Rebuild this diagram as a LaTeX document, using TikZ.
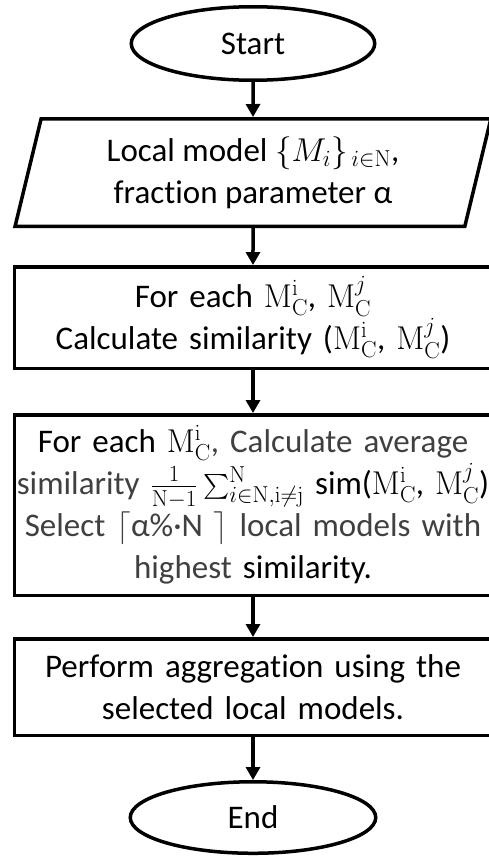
\RequirePackage{fix-cm}
\documentclass[tikz,border=0pt]{standalone}
\usepackage{amsmath}
\usepackage[no-math]{fontspec}
\setmainfont{Carlito}[Ligatures=NoCommon]
\usetikzlibrary{shapes.geometric, arrows.meta, positioning}
\definecolor{txtgray}{RGB}{64,64,64}
\newcommand{\Mci}{\mathrm{M}_{\mathrm{C}}^{\mathrm{i}}}
\newcommand{\Mcj}{\mathrm{M}_{\mathrm{C}}^{j}}
\tikzset{
  terminal/.style={ellipse, draw=black, line width=3.5pt,
    minimum width=243.5pt, minimum height=73.5pt, inner sep=0pt},
  io/.style={trapezium, trapezium left angle=76, trapezium right angle=104,
    trapezium stretches=true, draw=black, line width=3.5pt,
    minimum width=477pt, minimum height=107.5pt, align=center, inner sep=0pt},
  process/.style={rectangle, draw=black, line width=3.5pt,
    minimum width=477pt, text width=474pt, align=center, inner sep=0pt},
  arrow/.style={-{Triangle[length=13pt,width=14pt]}, line width=3.5pt}
}
\begin{document}
\begin{tikzpicture}[x=1pt, y=1pt, font=\fontsize{33}{42}\selectfont]
  \useasboundingbox (0,0) rectangle (489,-859);
  \clip (0,0) rectangle (489,-859);

  % Terminals and steps
  \node[terminal] (start) at (253,-43.5) {Start};
  \node[io, below=35pt of start] (input)
    {Local model $\{M_i\}_{\,i\in\mathrm{N}}$,\\ fraction parameter α};
  \node[process, minimum height=101.5pt, below=37pt of input] (pairs)
    {For each $\Mci$, $\Mcj$\\ Calculate similarity ($\Mci$, $\Mcj$)};
  \node[process, minimum height=180.5pt, below=43pt of pairs] (select)
    {For each $\Mci$\textcolor{txtgray}{, Calculate average}\\
     \textcolor{txtgray}{similarity} $\frac{1}{\mathrm{N}-1}\sum_{i\in\mathrm{N},\mathrm{i}\neq\mathrm{j}}^{\mathrm{N}}$ sim($\Mci$, $\Mcj$)\\
     \textcolor{txtgray}{Select $\lceil$α\%·N $\rceil$ local models with}\\
     \textcolor{txtgray}{highest} similarity.};
  \node[process, minimum height=96.5pt, below=40pt of select] (aggr)
    {Perform aggregation using the\\ selected local models.};
  \node[terminal, minimum width=245.5pt, minimum height=71.5pt, below=43pt of aggr] (end) {End};

  % Connections
  \draw[arrow] (start) -- (input);
  \draw[arrow] (input) -- (pairs);
  \draw[arrow] (pairs) -- (select);
  \draw[arrow] (select) -- (aggr);
  \draw[arrow] (aggr) -- (end);
\end{tikzpicture}
\end{document}
